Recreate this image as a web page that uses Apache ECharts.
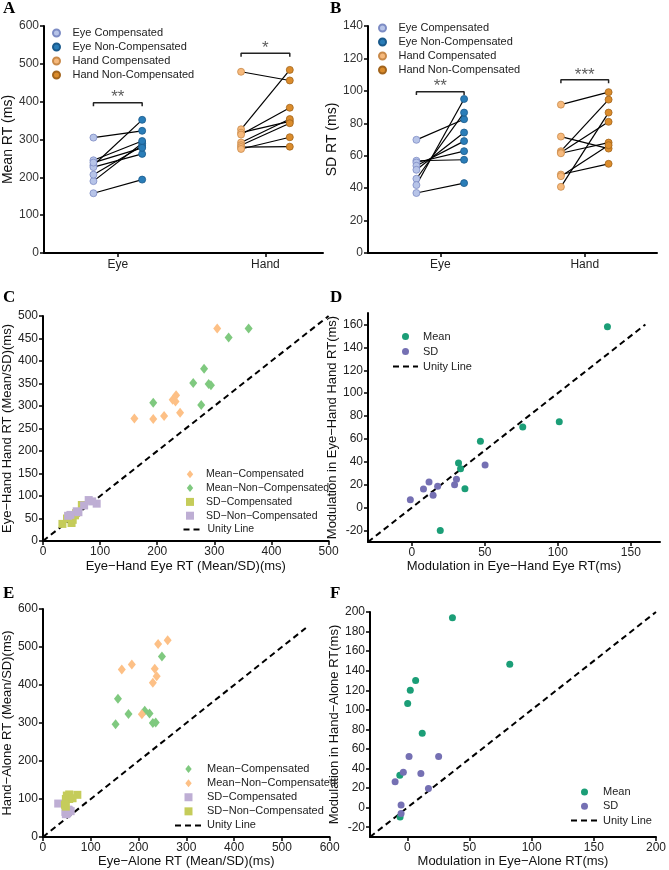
<!DOCTYPE html>
<html><head><meta charset="utf-8">
<script src="https://cdn.jsdelivr.net/npm/echarts@6/dist/echarts.min.js"></script>
<style>html,body{margin:0;padding:0;background:#fff}#c{width:669px;height:870px}</style>
</head><body><div id="c"></div>
<script>
// ---------- DATA ----------
const categories = ['Eye', 'Hand'];
// Panel A: Mean RT (ms), one value per subject (paired by index)
const meanEyeComp  = [305, 158, 190, 207, 232, 245, 227, 239];
const meanEyeNon   = [323, 194, 290, 283, 352, 296, 262, 278];
const meanHandComp = [479, 327, 318, 313, 292, 285, 280, 275];
const meanHandNon  = [456, 484, 348, 384, 354, 343, 281, 306];
// Panel B: SD RT (ms)
const sdEyeComp  = [69.8, 56.9, 55.8, 53.8, 51.3, 45.8, 41.9, 37];
const sdEyeNon   = [82.5, 57.5, 62.8, 69, 74.3, 86.6, 95, 43.1];
const sdHandComp = [91.5, 71.8, 62.8, 62, 61.5, 48.4, 47.4, 40.8];
const sdHandNon  = [99.2, 64.4, 94.6, 80.9, 68.1, 55, 66.5, 86.6];
// significance annotations [category index, level value, label]
const sigA = [[0, 397, '**'], [1, 528, '*']];
const sigB = [[0, 99.5, '**'], [1, 106.8, '***']];
// Panel C: Eye-Hand eye RT (x) vs hand RT (y)
const cMeanComp = [[305,472],[160,272],[193,271],[212,278],[227,314],[232,310],[233,324],[240,285]];
const cMeanNon  = [[360,472],[325,452],[282,383],[263,351],[290,349],[294,346],[277,302],[193,307]];
const cSDComp   = [[34,38],[50,40],[45,55],[52,47],[68,80],[58,62],[42,50],[56,57]];
const cSDNon    = [[80,91],[94,83],[72,79],[59,66],[44,56],[62,64],[48,58],[86,88]];
const unityC = [0, 500];
// Panel D: modulation eye (x) vs hand (y), Eye-Hand task
const dMean = [[134,158],[101,75],[76,70.5],[47,58],[32,39],[33.4,34],[36.4,16.6],[19.5,-20]];
const dSD   = [[-1,7],[8,16.3],[11.8,22.4],[14.6,10.8],[17.7,18.6],[29.3,20.1],[30.6,24.8],[50.2,37.3]];
const unityD = [-30, 160];
// Panel E: Eye-alone (x) vs Hand-alone (y)
const eMeanComp = [[152,297],[157,364],[179,324],[213,332],[223,325],[230,300],[236,301],[249,475]];
const eMeanNon  = [[165,441],[186,454],[241,508],[261,518],[234,443],[238,423],[230,406],[207,323]];
const eSDComp   = [[32,88],[48,60],[50,62],[52,65],[55,70],[58,68],[47,66],[53,72]];
const eSDNon    = [[50,109],[55,112],[72,111],[48,100],[55,100],[62,102],[46,85],[48,80]];
const unityE = [0, 550];
// Panel F: modulation eye-alone (x) vs hand-alone (y)
const fMean = [[36.3,194],[82.4,146.5],[6.7,130],[2.4,120],[0.3,106.4],[12,76],[-6,33],[-5.8,-9.5]];
const fSD   = [[-9.8,26.4],[-3.2,36.2],[1.4,52.2],[25.2,52.2],[10.9,34.9],[17,19.6],[-5,2.7],[-5,-6.1]];
const unityF = [-30, 200];

// ---------- STYLE ----------
const FONT = 'Liberation Sans, Arial, sans-serif';
const xOff = 0.165;
const DIAMOND = 'path://M4,0L8,5L4,10L0,5Z';
const SQUARE = 'path://M0,0L8,0L8,8L0,8Z';
const col = {
  eyeComp: ['#b7c4e8', '#7d8cc4'], eyeNon: ['#2a7db8', '#1a5a8c'],
  handComp: ['#f6b97c', '#c98a4a'], handNon: ['#db8c2c', '#a2641c'],
  orange: '#fdc086', green: '#7fc97f', lav: '#beaed4', olive: '#c5cc5a',
  mean: '#1b9e77', sd: '#7570b3'
};

function axis(o) {
  const base = {
    type: 'value', splitLine: {show: false},
    axisLine: {show: true, onZero: false, lineStyle: {color: '#000', width: 2}},
    axisTick: {show: true, length: 4, lineStyle: {color: '#000', width: 1.5}},
    axisLabel: {color: '#222', fontSize: 12, fontFamily: FONT, margin: 5},
    nameLocation: 'middle',
    nameTextStyle: {color: '#111', fontSize: 13, fontFamily: FONT}
  };
  const r = Object.assign({}, base, o);
  if (o.axisLabel) r.axisLabel = Object.assign({}, base.axisLabel, o.axisLabel);
  if (o.axisTick) r.axisTick = Object.assign({}, base.axisTick, o.axisTick);
  if (o.nameTextStyle) r.nameTextStyle = Object.assign({}, base.nameTextStyle, o.nameTextStyle);
  return r;
}
const range = (a, b, s) => { const r = []; for (let v = a; v <= b + 1e-9; v += s) r.push(v); return r; };

const grid = [
  {left: 43, top: 26, width: 280, height: 227},
  {left: 368, top: 26, width: 289, height: 227},
  {left: 43, top: 316, width: 285.6, height: 225},
  {left: 368, top: 313, width: 292, height: 229},
  {left: 39, top: 609, width: 290.7, height: 228},
  {left: 370, top: 612, width: 290, height: 225}
];

const catFmt = v => categories[Math.round(v) - 1] || '';
const xAxis = [
  axis({gridIndex: 0, min: 0.5, max: 2.39, axisLabel: {customValues: [1, 2], formatter: catFmt, margin: 6}, axisTick: {customValues: [1, 2]}}),
  axis({gridIndex: 1, min: 0.5, max: 2.5, axisLabel: {customValues: [1, 2], formatter: catFmt, margin: 6}, axisTick: {customValues: [1, 2]}}),
  axis({gridIndex: 2, min: 0, max: 500, interval: 100, name: 'Eye\u2212Hand Eye RT (Mean/SD)(ms)', nameGap: 19}),
  axis({gridIndex: 3, min: -30, max: 170, axisLabel: {customValues: range(0, 150, 50)}, axisTick: {customValues: range(0, 150, 50)}, name: 'Modulation in Eye\u2212Hand Eye RT(ms)', nameGap: 18}),
  axis({gridIndex: 4, min: 0, max: 600, interval: 100, name: 'Eye\u2212Alone RT (Mean/SD)(ms)', nameGap: 18}),
  axis({gridIndex: 5, min: -30, max: 200, axisLabel: {customValues: range(0, 200, 50)}, axisTick: {customValues: range(0, 200, 50)}, name: 'Modulation in Eye\u2212Alone RT(ms)', nameGap: 18})
];
const yAxis = [
  axis({gridIndex: 0, min: 0, max: 600, interval: 100, name: 'Mean RT (ms)', nameGap: 29, nameTextStyle: {fontSize: 14}, axisLabel: {color: '#333'}}),
  axis({gridIndex: 1, min: 0, max: 140, interval: 20, name: 'SD RT (ms)', nameGap: 21, nameTextStyle: {fontSize: 14}, axisLabel: {color: '#333'}}),
  axis({gridIndex: 2, min: 0, max: 500, interval: 50, name: 'Eye\u2212Hand Hand RT (Mean/SD)(ms)', nameGap: 27}),
  axis({gridIndex: 3, min: -30, max: 170, axisLabel: {customValues: range(-20, 160, 20)}, axisTick: {customValues: range(-20, 160, 20)}, name: 'Modulation in Eye\u2212Hand Hand RT(ms)', nameGap: 23}),
  axis({gridIndex: 4, min: 0, max: 600, interval: 100, name: 'Hand\u2212Alone RT (Mean/SD)(ms)', nameGap: 25}),
  axis({gridIndex: 5, min: -30, max: 200, axisLabel: {customValues: range(-20, 200, 20)}, axisTick: {customValues: range(-20, 200, 20)}, name: 'Modulation in Hand\u2212Alone RT(ms)', nameGap: 24})
];

const series = [];
function pairLines(g, cat, comp, non) {
  comp.forEach((v, i) => {
    series.push({type: 'line', xAxisIndex: g, yAxisIndex: g, silent: true, symbol: 'none', z: 2,
      data: [[cat - xOff, v], [cat + xOff, non[i]]], lineStyle: {color: '#000', width: 1.2}});
  });
}
function dots(g, name, x, vals, c) {
  series.push({type: 'scatter', name, xAxisIndex: g, yAxisIndex: g, z: 3, symbol: 'circle', symbolSize: 7,
    data: vals.map(v => [x, v]), itemStyle: {color: c[0], borderColor: c[1], borderWidth: 0.8, opacity: 1}});
}
function sig(g, list) {
  list.forEach(([ci, y, lab]) => {
    const cat = ci + 1, drop = g === 0 ? 9 : 2.1;
    series.push({type: 'line', xAxisIndex: g, yAxisIndex: g, silent: true, symbol: 'none', z: 2,
      data: [[cat - xOff, y - drop], [cat - xOff, y], [cat + xOff, y], [cat + xOff, y - drop]],
      lineStyle: {color: '#222', width: 1.5}});
    series.push({type: 'scatter', xAxisIndex: g, yAxisIndex: g, silent: true, symbolSize: 1, z: 4,
      itemStyle: {color: 'rgba(0,0,0,0)'}, data: [[cat, y]],
      label: {show: true, formatter: lab, position: 'top', distance: -4, fontSize: 17, fontFamily: FONT, color: '#333'}});
  });
}
// A
pairLines(0, 1, meanEyeComp, meanEyeNon);
pairLines(0, 2, meanHandComp, meanHandNon);
dots(0, 'Eye Compensated', 1 - xOff, meanEyeComp, col.eyeComp);
dots(0, 'Eye Non-Compensated', 1 + xOff, meanEyeNon, col.eyeNon);
dots(0, 'Hand Compensated', 2 - xOff, meanHandComp, col.handComp);
dots(0, 'Hand Non-Compensated', 2 + xOff, meanHandNon, col.handNon);
sig(0, sigA);
// B
pairLines(1, 1, sdEyeComp, sdEyeNon);
pairLines(1, 2, sdHandComp, sdHandNon);
dots(1, 'Eye Compensated', 1 - xOff, sdEyeComp, col.eyeComp);
dots(1, 'Eye Non-Compensated', 1 + xOff, sdEyeNon, col.eyeNon);
dots(1, 'Hand Compensated', 2 - xOff, sdHandComp, col.handComp);
dots(1, 'Hand Non-Compensated', 2 + xOff, sdHandNon, col.handNon);
sig(1, sigB);

function unity(g, ends) {
  series.push({type: 'line', name: 'Unity Line', xAxisIndex: g, yAxisIndex: g, symbol: 'none', z: 1, silent: true,
    data: ends.map(v => [v, v]), lineStyle: {color: '#000', width: 2, type: [6, 4]}, itemStyle: {color: '#000'}});
}
function pts(g, name, data, color, symbol, size) {
  series.push({type: 'scatter', name, xAxisIndex: g, yAxisIndex: g, z: 3, symbol, symbolSize: size,
    data, itemStyle: {color, opacity: 1}});
}
// C
unity(2, unityC);
pts(2, 'Mean\u2212Compensated', cMeanComp, col.orange, DIAMOND, [8, 10]);
pts(2, 'Mean\u2212Non\u2212Compensated', cMeanNon, col.green, DIAMOND, [8, 10]);
pts(2, 'SD\u2212Compensated', cSDComp, col.olive, SQUARE, 8);
pts(2, 'SD\u2212Non\u2212Compensated', cSDNon, col.lav, SQUARE, 8);
// D
unity(3, unityD);
pts(3, 'Mean', dMean, col.mean, 'circle', 7);
pts(3, 'SD', dSD, col.sd, 'circle', 7);
// E (names carry a trailing space to keep their own legend colours)
unity(4, unityE);
pts(4, 'Mean\u2212Compensated ', eMeanComp, col.green, DIAMOND, [8, 10]);
pts(4, 'Mean\u2212Non\u2212Compensated ', eMeanNon, col.orange, DIAMOND, [8, 10]);
pts(4, 'SD\u2212Compensated ', eSDComp, col.lav, SQUARE, 8);
pts(4, 'SD\u2212Non\u2212Compensated ', eSDNon, col.olive, SQUARE, 8);
// F
unity(5, unityF);
pts(5, 'Mean', fMean, col.mean, 'circle', 7);
pts(5, 'SD', fSD, col.sd, 'circle', 7);

const UNITY = {name: 'Unity Line', itemStyle: {opacity: 0}};
function legend(o, fs, lh) {
  return Object.assign({orient: 'vertical', selectedMode: false, itemGap: 0, itemWidth: 22, itemHeight: 7, padding: 0,
    symbolKeepAspect: true,
    textStyle: {fontSize: fs || 11, fontFamily: FONT, color: '#222', lineHeight: lh || 14}}, o);
}
const legendAB = ['Eye Compensated', 'Eye Non-Compensated', 'Hand Compensated', 'Hand Non-Compensated'];
const legends = [
  legend({data: legendAB, left: 52, top: 26}),
  legend({data: legendAB, left: 378, top: 21}),
  legend({data: ['Mean\u2212Compensated', 'Mean\u2212Non\u2212Compensated', 'SD\u2212Compensated', 'SD\u2212Non\u2212Compensated'], left: 186, top: 467.4, itemHeight: 8}, 10.5, 13.8),
  legend({data: [UNITY], left: 182.5, top: 522.6, itemWidth: 19}, 10.5, 13.8),
  legend({data: ['Mean', 'SD', UNITY], left: 392, top: 329, itemWidth: 25}, 11, 15),
  legend({data: ['Mean\u2212Compensated ', 'Mean\u2212Non\u2212Compensated ', 'SD\u2212Compensated ', 'SD\u2212Non\u2212Compensated ', UNITY], left: 174, top: 762, itemWidth: 27, itemHeight: 8}, 11, 14.1),
  legend({data: ['Mean', 'SD', UNITY], left: 570, top: 785, itemWidth: 27}, 11, 14.2)
];

const letter = (t, left, top) => ({text: t, left, top, padding: 0,
  textStyle: {fontFamily: 'Liberation Serif, Times New Roman, serif', fontWeight: 'bold', fontSize: 17, color: '#000'}});
const titles = [letter('A', 3, 0), letter('B', 330, 0), letter('C', 3, 289), letter('D', 330, 289), letter('E', 3, 585), letter('F', 330, 585)];

const chart = echarts.init(document.getElementById('c'), null, {renderer: 'canvas'});
chart.setOption({
  animation: false, backgroundColor: '#fff',
  title: titles, legend: legends, grid, xAxis, yAxis, series
});
</script></body></html>
